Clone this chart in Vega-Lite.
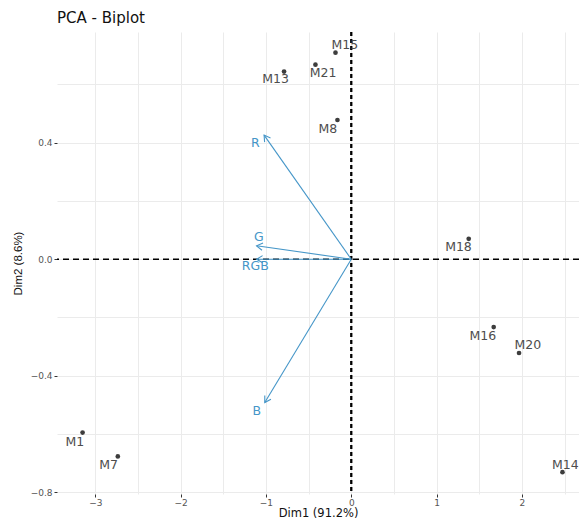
{
  "$schema": "https://vega.github.io/schema/vega-lite/v6.json",
  "width": 522,
  "height": 462,
  "autosize": {"type": "none"},
  "padding": {"left": 57, "top": 32, "right": 0, "bottom": 26},
  "background": "white",
  "title": {"text": "PCA - Biplot", "anchor": "start", "frame": "group", "fontSize": 15, "fontWeight": "normal", "font": "DejaVu Sans", "color": "#111111", "offset": 5},
  "config": {
    "view": {"stroke": null},
    "axis": {
      "domain": false,
      "gridColor": "#ebebeb",
      "gridWidth": 1,
      "tickSize": 3,
      "labelFont": "DejaVu Sans",
      "labelFontSize": 9,
      "labelColor": "#555555",
      "titleFont": "DejaVu Sans",
      "titleFontSize": 11.5,
      "titleFontWeight": "normal",
      "titleColor": "#111111"
    }
  },
  "datasets": {
    "ind": [
      {"name": "M15", "x": -0.185, "y": 0.709, "lx": -0.076, "ly": 0.735},
      {"name": "M21", "x": -0.42, "y": 0.668, "lx": -0.33, "ly": 0.64},
      {"name": "M13", "x": -0.788, "y": 0.644, "lx": -0.887, "ly": 0.617},
      {"name": "M8", "x": -0.162, "y": 0.478, "lx": -0.275, "ly": 0.447},
      {"name": "M18", "x": 1.377, "y": 0.07, "lx": 1.257, "ly": 0.041},
      {"name": "M16", "x": 1.67, "y": -0.233, "lx": 1.542, "ly": -0.263},
      {"name": "M20", "x": 1.967, "y": -0.322, "lx": 2.07, "ly": -0.296},
      {"name": "M1", "x": -3.15, "y": -0.595, "lx": -3.24, "ly": -0.626},
      {"name": "M7", "x": -2.737, "y": -0.677, "lx": -2.846, "ly": -0.708},
      {"name": "M14", "x": 2.476, "y": -0.731, "lx": 2.51, "ly": -0.708}
    ],
    "var": [
      {"name": "R", "x": -1.022, "y": 0.426, "lx": -1.125, "ly": 0.40},
      {"name": "G", "x": -1.11, "y": 0.046, "lx": -1.084, "ly": 0.0755},
      {"name": "RGB", "x": -1.11, "y": 0.0, "lx": -1.125, "ly": -0.025},
      {"name": "B", "x": -1.014, "y": -0.492, "lx": -1.108, "ly": -0.52}
    ],
    "origin": [{"x": 0, "y": 0}]
  },
  "layer": [
    {
      "data": {"name": "ind"},
      "mark": {"type": "point", "opacity": 0},
      "encoding": {
        "x": {
          "field": "x", "type": "quantitative",
          "scale": {"domain": [-3.45, 2.67], "nice": false, "zero": false},
          "axis": {
            "title": "Dim1 (91.2%)",
            "values": [-3, -2.5, -2, -1.5, -1, -0.5, 0, 0.5, 1, 1.5, 2, 2.5],
            "labelExpr": "datum.value % 1 === 0 ? format(datum.value, 'd') : ''",
            "tickColor": {"condition": {"test": "datum.value % 1 !== 0", "value": "transparent"}, "value": "#333333"},
            "labelPadding": 1,
            "titleY": 19.5,
            "titleBaseline": "middle"
          }
        },
        "y": {
          "field": "y", "type": "quantitative",
          "scale": {"domain": [-0.806, 0.78], "nice": false, "zero": false},
          "axis": {
            "title": "Dim2 (8.6%)",
            "titleFont": "Liberation Sans",
            "titleFontSize": 11.5,
            "values": [-0.8, -0.6, -0.4, -0.2, 0, 0.2, 0.4, 0.6],
            "labelExpr": "round(datum.value * 10) % 4 === 0 ? format(datum.value, '.1f') : ''",
            "tickColor": {"condition": {"test": "round(datum.value * 10) % 4 !== 0", "value": "transparent"}, "value": "#333333"},
            "labelPadding": 2,
            "titleX": -39,
            "titleY": 231,
            "titleBaseline": "middle"
          }
        }
      }
    },
    {
      "data": {"name": "origin"},
      "mark": {"type": "rule", "color": "black", "strokeDash": [6, 4], "strokeWidth": 1.5},
      "encoding": {"y": {"field": "y", "type": "quantitative"}}
    },
    {
      "data": {"name": "origin"},
      "mark": {"type": "rule", "color": "black", "strokeDash": [4, 3], "strokeWidth": 2.3},
      "encoding": {"x": {"field": "x", "type": "quantitative"}}
    },
    {
      "data": {"name": "ind"},
      "mark": {"type": "circle", "color": "#3d3d3d", "size": 22, "opacity": 1},
      "encoding": {
        "x": {"field": "x", "type": "quantitative"},
        "y": {"field": "y", "type": "quantitative"}
      }
    },
    {
      "data": {"name": "ind"},
      "mark": {"type": "text", "font": "DejaVu Sans", "fontSize": 12.5, "color": "#4d4d4d", "baseline": "middle", "align": "center"},
      "encoding": {
        "x": {"field": "lx", "type": "quantitative"},
        "y": {"field": "ly", "type": "quantitative"},
        "text": {"field": "name"}
      }
    },
    {
      "data": {"name": "var"},
      "mark": {"type": "rule", "color": "#4596C8", "strokeWidth": 1.1},
      "encoding": {
        "x": {"field": "x", "type": "quantitative"},
        "y": {"field": "y", "type": "quantitative"},
        "x2": {"datum": 0},
        "y2": {"datum": 0}
      }
    },
    {
      "data": {"name": "var"},
      "transform": [{"calculate": "atan2(datum.x * 85.29, datum.y * 291.3) * 180 / PI", "as": "ang"}],
      "mark": {"type": "point", "shape": "M -0.6 1 L 0 0 L 0.6 1", "filled": false, "color": "#4596C8", "size": 144, "strokeWidth": 1.1, "opacity": 1},
      "encoding": {
        "x": {"field": "x", "type": "quantitative"},
        "y": {"field": "y", "type": "quantitative"},
        "angle": {"field": "ang", "type": "quantitative", "scale": null}
      }
    },
    {
      "data": {"name": "var"},
      "mark": {"type": "text", "font": "DejaVu Sans", "fontSize": 12.5, "color": "#4596C8", "baseline": "middle", "align": "center"},
      "encoding": {
        "x": {"field": "lx", "type": "quantitative"},
        "y": {"field": "ly", "type": "quantitative"},
        "text": {"field": "name"}
      }
    }
  ]
}
